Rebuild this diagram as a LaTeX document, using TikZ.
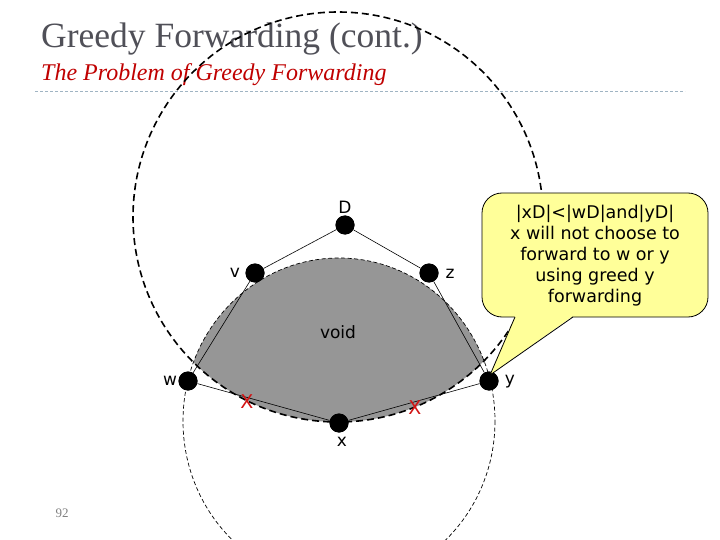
\documentclass[tikz,border=0pt]{standalone}
\usepackage{fontspec}
\setmainfont{Liberation Serif}
\newfontfamily\vsans{DejaVu Sans}
\definecolor{titlegray}{RGB}{80,80,88}
\definecolor{subred}{RGB}{192,0,0}
\definecolor{sepblue}{RGB}{160,180,195}
\definecolor{voidgray}{RGB}{150,150,150}
\definecolor{callyellow}{RGB}{255,255,153}
\definecolor{xred}{RGB}{210,20,20}
\begin{document}
\begin{tikzpicture}[x=1pt,y=-1pt,
  dot/.style={circle,fill=black,inner sep=0pt,minimum size=19pt},
  lbl/.style={font=\vsans\fontsize{17}{20}\selectfont,inner sep=0pt},
  edgeline/.style={line width=0.6pt},
  cross/.style={font=\vsans\fontsize{19}{20}\selectfont,text=xred,inner sep=0pt},
  bigcirc/.style={line width=1.6pt,dash pattern=on 7pt off 4pt},
  thincirc/.style={line width=0.7pt,dash pattern=on 4pt off 2.5pt}]
\useasboundingbox (0,0) rectangle (720,540);
\fill[white] (0,0) rectangle (720,540);
% titles
\node[anchor=base west,inner sep=0pt,text=titlegray,font=\fontsize{35.5}{40}\selectfont] (title) at (41,48) {Greedy Forwarding (cont.)};
\node[anchor=base west,inner sep=0pt,text=subred,font=\itshape\fontsize{24}{28}\selectfont] (subtitle) at (41,81) {The Problem of Greedy Forwarding};
\draw[sepblue,line width=0.8pt,dash pattern=on 3pt off 2pt] (35,91) -- (685,91);
\node[inner sep=0pt,text=gray,font=\fontsize{13}{14}\selectfont] (page) at (62,513) {92};
% void region
\begin{scope}
  \clip (339,421) ellipse [x radius=156, y radius=163];
  \fill[voidgray] (338,217) circle [radius=205];
\end{scope}
\draw[thincirc] (339,421) ellipse [x radius=156, y radius=163];
% nodes
\node[dot] (D) at (345,225) {};
\node[dot] (v) at (255,273) {};
\node[dot] (z) at (429,273) {};
\node[dot] (w) at (188,381) {};
\node[dot] (y) at (489,381) {};
\node[dot] (x) at (339,423) {};
% edges
\draw[edgeline] (D) -- (v);
\draw[edgeline] (D) -- (z);
\draw[edgeline] (v) -- (w);
\draw[edgeline] (z) -- (y);
\draw[edgeline] (w) -- (x);
\draw[edgeline] (x) -- (y);
% big circle
\draw[bigcirc] (338,217) circle [radius=205];
% redraw dots on top
\foreach \n in {D,v,z,w,y,x} { \fill[black] (\n) circle [radius=9.5]; }
% labels
\node[lbl] (lD) at (345,207) {D};
\node[lbl] (lv) at (235,273) {v};
\node[lbl] (lz) at (450,274) {z};
\node[lbl] (lw) at (170,381) {w};
\node[lbl] (ly) at (510,382) {y};
\node[lbl] (lx) at (342,442) {x};
\node[lbl] (void) at (338,332) {void};
\node[cross] (x1) at (247,402) {X};
\node[cross] (x2) at (415,408) {X};
% callout
\path[fill=callyellow,draw=black,line width=0.8pt,rounded corners=20pt] (482,193) rectangle (708,317);
\fill[callyellow] (515,316) -- (490,375) -- (573,316) -- cycle;
\draw[line width=0.8pt,line join=miter] (515,317) -- (490,375) -- (573,317);
\node[align=center,inner sep=0pt,font=\vsans\fontsize{17.5}{21}\selectfont] (note) at (595,256)
  {|xD|<|wD|and|yD|\\x will not choose to\\forward to w or y\\using greed y\\forwarding};
\end{tikzpicture}
\end{document}
